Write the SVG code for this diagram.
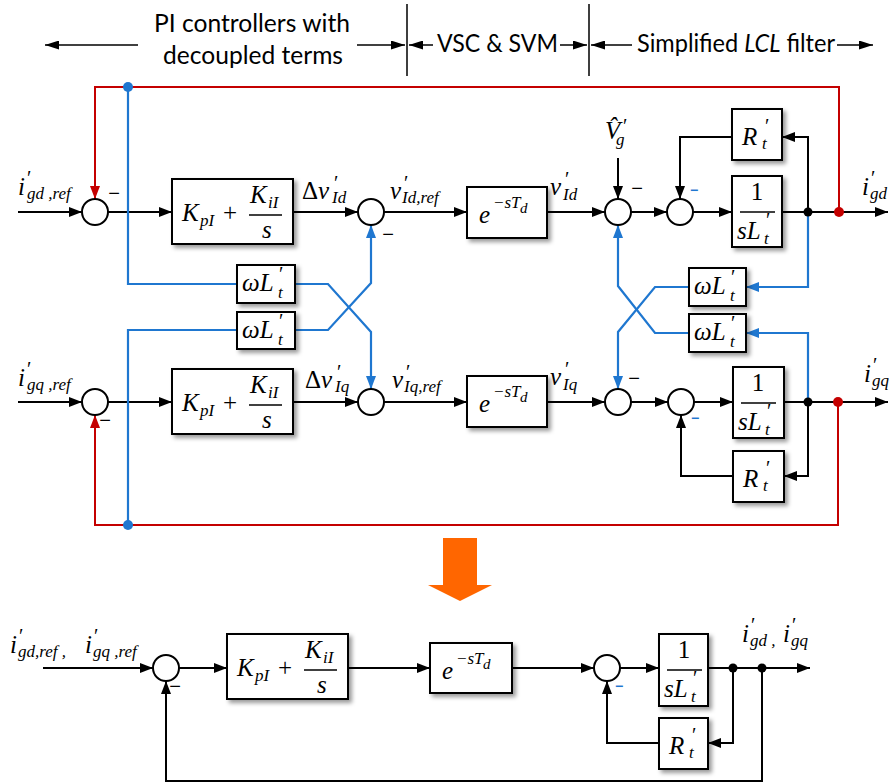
<svg xmlns="http://www.w3.org/2000/svg" width="894" height="783" viewBox="0 0 894 783">
<defs>
<style>
.k{stroke:#000;stroke-width:2;fill:none}
.b{stroke:#1f77d0;stroke-width:2.2;fill:none}
.r{stroke:#c40000;stroke-width:2;fill:none}
.h{stroke:#000;stroke-width:1.5;fill:none}
.bx{fill:#fff;stroke:#000;stroke-width:2;filter:url(#sh)}
.sm{fill:#fff;stroke:#000;stroke-width:2}
.t{font-family:"Liberation Serif","Times New Roman",serif;font-style:italic;font-size:25px;fill:#000}
.up{font-style:normal}
.sb{font-size:17px}
.pr{font-size:20px;font-style:normal}
.hd{font-family:Lato,"Open Sans","Liberation Sans",sans-serif;font-size:25px;fill:#000}
.mn{font-family:"Liberation Sans",sans-serif;font-size:20px;fill:#000;text-anchor:middle}
.mb{font-size:14px;fill:#1f77d0;font-weight:bold}
</style>
<filter id="sh" x="-20%" y="-20%" width="150%" height="150%"><feDropShadow dx="3" dy="3" stdDeviation="2" flood-color="#000" flood-opacity="0.4"/></filter>
<marker id="ak" viewBox="0 0 13 10" refX="13" refY="5" markerWidth="13" markerHeight="10" markerUnits="userSpaceOnUse" orient="auto"><path d="M0,0L13,5L0,10z" fill="#000"/></marker>
<marker id="ab" viewBox="0 0 13 10" refX="13" refY="5" markerWidth="13" markerHeight="10" markerUnits="userSpaceOnUse" orient="auto"><path d="M0,0L13,5L0,10z" fill="#1f77d0"/></marker>
<marker id="ar" viewBox="0 0 13 10" refX="13" refY="5" markerWidth="13" markerHeight="10" markerUnits="userSpaceOnUse" orient="auto"><path d="M0,0L13,5L0,10z" fill="#c40000"/></marker>
<marker id="ah" viewBox="0 0 14 9" refX="14" refY="4.5" markerWidth="14" markerHeight="9" markerUnits="userSpaceOnUse" orient="auto"><path d="M0,0L14,4.5L0,9z" fill="#000"/></marker>
</defs>
<rect width="894" height="783" fill="#fff"/>

<g id="header">
<path class="h" d="M407,4V76M589,4V76"/>
<path class="h" d="M138,45H45" marker-end="url(#ah)"/>
<path class="h" d="M357,45H405" marker-end="url(#ah)"/>
<path class="h" d="M433,45H409" marker-end="url(#ah)"/>
<path class="h" d="M560,45H587" marker-end="url(#ah)"/>
<path class="h" d="M632,45H591" marker-end="url(#ah)"/>
<path class="h" d="M837,45H873" marker-end="url(#ah)"/>
<text class="hd" x="154" y="32" textLength="196" lengthAdjust="spacingAndGlyphs">PI controllers with</text>
<text class="hd" x="163" y="64" textLength="180" lengthAdjust="spacingAndGlyphs">decoupled terms</text>
<text class="hd" x="437" y="52" textLength="121" lengthAdjust="spacingAndGlyphs">VSC &amp; SVM</text>
<text class="hd" x="637" y="52" textLength="198" lengthAdjust="spacingAndGlyphs">Simplified <tspan font-style="italic">LCL</tspan> filter</text>
</g>

<g id="connectors">
<path class="k" d="M18,212H82" marker-end="url(#ak)"/>
<path class="k" d="M108,212H172" marker-end="url(#ak)"/>
<path class="k" d="M293,212H358" marker-end="url(#ak)"/>
<path class="k" d="M384,212H467" marker-end="url(#ak)"/>
<path class="k" d="M547,212H605" marker-end="url(#ak)"/>
<path class="k" d="M631,212H667" marker-end="url(#ak)"/>
<path class="k" d="M693,212H732" marker-end="url(#ak)"/>
<path class="k" d="M782,212H888" marker-end="url(#ak)"/>
<path class="k" d="M808,212V137H782" marker-end="url(#ak)"/>
<path class="k" d="M732,137H680V199" marker-end="url(#ak)"/>
<path class="k" d="M618,158V199" marker-end="url(#ak)"/>
<path class="k" d="M18,402H82" marker-end="url(#ak)"/>
<path class="k" d="M108,402H172" marker-end="url(#ak)"/>
<path class="k" d="M293,402H358" marker-end="url(#ak)"/>
<path class="k" d="M384,402H467" marker-end="url(#ak)"/>
<path class="k" d="M547,402H605" marker-end="url(#ak)"/>
<path class="k" d="M631,402H668" marker-end="url(#ak)"/>
<path class="k" d="M694,402H733" marker-end="url(#ak)"/>
<path class="k" d="M784,402H888" marker-end="url(#ak)"/>
<path class="k" d="M808,402V476H784" marker-end="url(#ak)"/>
<path class="k" d="M733,476H681V415" marker-end="url(#ak)"/>
<path class="r" d="M839,212V87H95V199" marker-end="url(#ar)"/>
<path class="r" d="M838,402V525H95V415" marker-end="url(#ar)"/>
<path class="b" d="M128,87V284H237"/>
<path class="b" d="M237,330H128V525"/>
<path class="b" d="M295,284H328L371,332V389" marker-end="url(#ab)"/>
<path class="b" d="M295,330H328L371,283V225" marker-end="url(#ab)"/>
<path class="b" d="M808,212V287H746" marker-end="url(#ab)"/>
<path class="b" d="M808,402V333H746" marker-end="url(#ab)"/>
<path class="b" d="M689,287H655L618,332V389" marker-end="url(#ab)"/>
<path class="b" d="M689,333H655L618,286V225" marker-end="url(#ab)"/>
<circle cx="808" cy="212" r="4.5"/>
<circle cx="808" cy="402" r="4.5"/>
<circle cx="839" cy="212" r="5" fill="#c40000"/>
<circle cx="838" cy="402" r="5" fill="#c40000"/>
<circle cx="128" cy="87" r="5" fill="#1f77d0"/>
<circle cx="128" cy="525" r="5" fill="#1f77d0"/>
<path class="k" d="M43,668H153" marker-end="url(#ak)"/>
<path class="k" d="M179,668H227" marker-end="url(#ak)"/>
<path class="k" d="M348,668H430" marker-end="url(#ak)"/>
<path class="k" d="M512,668H594" marker-end="url(#ak)"/>
<path class="k" d="M620,668H659" marker-end="url(#ak)"/>
<path class="k" d="M708,668H810" marker-end="url(#ak)"/>
<path class="k" d="M733,668V743H708" marker-end="url(#ak)"/>
<path class="k" d="M659,743H607V681" marker-end="url(#ak)"/>
<path class="k" d="M762,668V781H166V681" marker-end="url(#ak)"/>
<circle cx="733" cy="668" r="4.5"/>
<circle cx="762" cy="668" r="4.5"/>
</g>

<g id="sums">
<circle id="s1u" class="sm" cx="95" cy="212" r="13"/>
<circle id="s2u" class="sm" cx="371" cy="212" r="13"/>
<circle id="s3u" class="sm" cx="618" cy="212" r="13"/>
<circle id="s4u" class="sm" cx="680" cy="212" r="13"/>
<circle id="s1l" class="sm" cx="95" cy="402" r="13"/>
<circle id="s2l" class="sm" cx="371" cy="402" r="13"/>
<circle id="s3l" class="sm" cx="618" cy="402" r="13"/>
<circle id="s4l" class="sm" cx="681" cy="402" r="13"/>
<circle id="s1b" class="sm" cx="166" cy="668" r="13"/>
<circle id="s2b" class="sm" cx="607" cy="668" r="13"/>
<text class="mn" x="114" y="200">−</text>
<text class="mn" x="388" y="241">−</text>
<text class="mn" x="637" y="195">−</text>
<text class="mn mb" x="694" y="195">−</text>
<text class="mn" x="105" y="427">−</text>
<text class="mn" x="634" y="385">−</text>
<text class="mn mb" x="695" y="423">−</text>
<text class="mn" x="175" y="693">−</text>
<text class="mn mb" x="619" y="691">−</text>
</g>

<g id="pi-d" transform="translate(172,179)">
<rect class="bx" width="121" height="65"/>
<text class="t" font-size="26" x="10" y="42">K<tspan class="sb" x="28" y="47">pI</tspan><tspan class="up" x="51" y="42">+</tspan><tspan x="78" y="24">K</tspan><tspan class="sb" x="96" y="29">iI</tspan><tspan x="90" y="59">s</tspan></text>
<path d="M77,36H110" stroke="#000" stroke-width="1.6"/>
</g>
<g id="pi-q" transform="translate(172,369)">
<rect class="bx" width="121" height="65"/>
<text class="t" font-size="26" x="10" y="42">K<tspan class="sb" x="28" y="47">pI</tspan><tspan class="up" x="51" y="42">+</tspan><tspan x="78" y="24">K</tspan><tspan class="sb" x="96" y="29">iI</tspan><tspan x="90" y="59">s</tspan></text>
<path d="M77,36H110" stroke="#000" stroke-width="1.6"/>
</g>
<g id="pi-b" transform="translate(227,634)">
<rect class="bx" width="121" height="65"/>
<text class="t" font-size="26" x="10" y="42">K<tspan class="sb" x="28" y="47">pI</tspan><tspan class="up" x="51" y="42">+</tspan><tspan x="78" y="24">K</tspan><tspan class="sb" x="96" y="29">iI</tspan><tspan x="90" y="59">s</tspan></text>
<path d="M77,36H110" stroke="#000" stroke-width="1.6"/>
</g>

<g id="delay-d" transform="translate(467,187)">
<rect class="bx" width="80" height="51"/>
<text class="t" font-size="28" x="12" y="36">e<tspan font-size="17" x="26" y="21">−sT</tspan><tspan font-size="15" x="53" y="26">d</tspan></text>
</g>
<g id="delay-q" transform="translate(467,376)">
<rect class="bx" width="80" height="51"/>
<text class="t" font-size="28" x="12" y="36">e<tspan font-size="17" x="26" y="21">−sT</tspan><tspan font-size="15" x="53" y="26">d</tspan></text>
</g>
<g id="delay-b" transform="translate(430,643)">
<rect class="bx" width="82" height="50"/>
<text class="t" font-size="28" x="12" y="36">e<tspan font-size="17" x="26" y="21">−sT</tspan><tspan font-size="15" x="53" y="26">d</tspan></text>
</g>

<g id="plant-d" transform="translate(732,176)">
<rect class="bx" width="50" height="71"/>
<text class="t" font-size="26" x="25" y="24" text-anchor="middle"><tspan class="up">1</tspan></text>
<path d="M8,36H43" stroke="#000" stroke-width="1.6"/>
<text class="t" font-size="26" x="5" y="63">sL<tspan class="pr" x="34" y="51">′</tspan><tspan class="sb" x="32" y="68">t</tspan></text>
</g>
<g id="plant-q" transform="translate(733,367)">
<rect class="bx" width="51" height="71"/>
<text class="t" font-size="26" x="25" y="24" text-anchor="middle"><tspan class="up">1</tspan></text>
<path d="M8,36H43" stroke="#000" stroke-width="1.6"/>
<text class="t" font-size="26" x="5" y="63">sL<tspan class="pr" x="34" y="51">′</tspan><tspan class="sb" x="32" y="68">t</tspan></text>
</g>
<g id="plant-b" transform="translate(659,634)">
<rect class="bx" width="49" height="72"/>
<text class="t" font-size="26" x="25" y="24" text-anchor="middle"><tspan class="up">1</tspan></text>
<path d="M8,36H43" stroke="#000" stroke-width="1.6"/>
<text class="t" font-size="26" x="5" y="63">sL<tspan class="pr" x="34" y="51">′</tspan><tspan class="sb" x="32" y="68">t</tspan></text>
</g>

<g id="res-d" transform="translate(732,109)">
<rect class="bx" width="50" height="51"/>
<text class="t" font-size="26" x="10" y="36">R<tspan class="pr" x="33" y="24">′</tspan><tspan class="sb" x="30" y="40">t</tspan></text>
</g>
<g id="res-q" transform="translate(733,451)">
<rect class="bx" width="51" height="51"/>
<text class="t" font-size="26" x="10" y="36">R<tspan class="pr" x="33" y="24">′</tspan><tspan class="sb" x="30" y="40">t</tspan></text>
</g>
<g id="res-b" transform="translate(659,718)">
<rect class="bx" width="49" height="51"/>
<text class="t" font-size="26" x="10" y="36">R<tspan class="pr" x="33" y="24">′</tspan><tspan class="sb" x="30" y="40">t</tspan></text>
</g>

<g id="wl-1" transform="translate(237,265)">
<rect class="bx" width="58" height="38"/>
<text class="t" x="5" y="26">ωL<tspan class="pr" x="42" y="16">′</tspan><tspan class="sb" x="41" y="33">t</tspan></text>
</g>
<g id="wl-2" transform="translate(237,312)">
<rect class="bx" width="58" height="37"/>
<text class="t" x="5" y="26">ωL<tspan class="pr" x="42" y="16">′</tspan><tspan class="sb" x="41" y="33">t</tspan></text>
</g>
<g id="wl-3" transform="translate(689,268)">
<rect class="bx" width="57" height="38"/>
<text class="t" x="5" y="26">ωL<tspan class="pr" x="42" y="16">′</tspan><tspan class="sb" x="41" y="33">t</tspan></text>
</g>
<g id="wl-4" transform="translate(689,314)">
<rect class="bx" width="57" height="38"/>
<text class="t" x="5" y="26">ωL<tspan class="pr" x="42" y="16">′</tspan><tspan class="sb" x="41" y="33">t</tspan></text>
</g>

<g id="labels">
<text class="t" x="18" y="195">i<tspan class="pr" x="27" y="185">′</tspan><tspan class="sb" x="27" y="199">gd ,ref</tspan></text>
<text class="t" x="18" y="386">i<tspan class="pr" x="27" y="376">′</tspan><tspan class="sb" x="27" y="390">gq ,ref</tspan></text>
<text class="t" x="302" y="199"><tspan class="up">Δ</tspan>v<tspan class="pr" x="334" y="190">′</tspan><tspan class="sb" x="332" y="203">Id</tspan></text>
<text class="t" x="305" y="388"><tspan class="up">Δ</tspan>v<tspan class="pr" x="337" y="379">′</tspan><tspan class="sb" x="335" y="392">Iq</tspan></text>
<text class="t" x="390" y="199">v<tspan class="pr" x="404" y="190">′</tspan><tspan class="sb" x="402" y="203">Id,ref</tspan></text>
<text class="t" x="392" y="388">v<tspan class="pr" x="406" y="379">′</tspan><tspan class="sb" x="404" y="392">Iq,ref</tspan></text>
<text class="t" x="550" y="195">v<tspan class="pr" x="565" y="186">′</tspan><tspan class="sb" x="563" y="200">Id</tspan></text>
<text class="t" x="550" y="385">v<tspan class="pr" x="565" y="376">′</tspan><tspan class="sb" x="563" y="390">Iq</tspan></text>
<text class="t" x="605" y="139">V̂<tspan class="pr" x="623" y="133">′</tspan><tspan class="sb" x="616" y="145">g</tspan></text>
<text class="t" x="862" y="195">i<tspan class="pr" x="871" y="185">′</tspan><tspan class="sb" x="870" y="199">gd</tspan></text>
<text class="t" x="864" y="382">i<tspan class="pr" x="873" y="372">′</tspan><tspan class="sb" x="872" y="386">gq</tspan></text>
<text class="t" x="10" y="653">i<tspan class="pr" x="19" y="643">′</tspan><tspan class="sb" x="18" y="657">gd,ref ,</tspan><tspan x="85" y="653">i</tspan><tspan class="pr" x="94" y="643">′</tspan><tspan class="sb" x="93" y="657">gq ,ref</tspan></text>
<text class="t" x="742" y="642">i<tspan class="pr" x="751" y="632">′</tspan><tspan class="sb" x="750" y="646">gd ,</tspan><tspan x="783" y="642">i</tspan><tspan class="pr" x="792" y="632">′</tspan><tspan class="sb" x="791" y="646">gq</tspan></text>
</g>

<g id="transform-arrow">
<polygon points="443,538 477,538 477,585 492,585 460,601 428,585 443,585" fill="#ff6600"/>
</g>
</svg>
